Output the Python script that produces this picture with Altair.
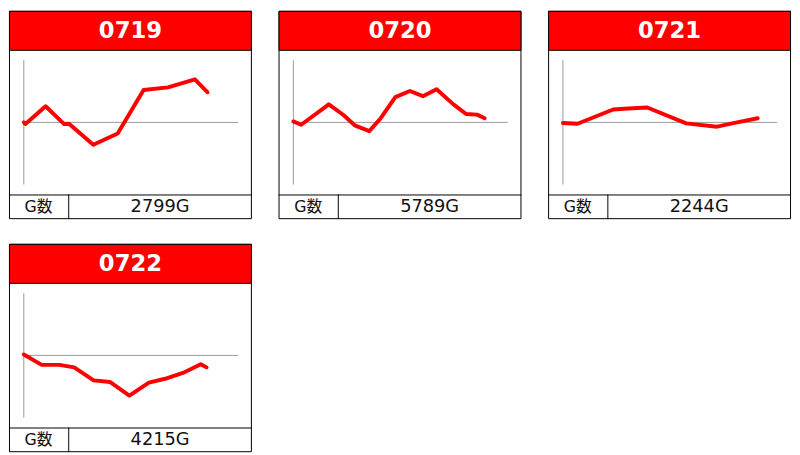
import altair as alt
import pandas as pd

# ---- data ----
machines = ["0719", "0720", "0721", "0722"]
games = ["2799G", "5789G", "2244G", "4215G"]

x_0719 = [0, 1.7, 22.4, 41.4, 46.4, 71.4, 96.4, 123, 148, 175.7, 188.7]
y_0719 = [0, -85, 830, -85, -70, -1150, -570, 1665, 1800, 2215, 1550]

x_0720 = [0, 8, 36.4, 51.4, 63, 78, 89.7, 104.7, 119.7, 133, 147, 164.7, 177.4, 188.7, 196.4]
y_0720 = [50, -120, 930, 380, -150, -450, 215, 1300, 1615, 1350, 1700, 915, 430, 400, 215]

x_0721 = [0, 15, 51.6, 66.6, 86.6, 126.6, 158.3, 175, 200]
y_0721 = [-35, -70, 665, 715, 765, -50, -220, -35, 215]

x_0722 = [0, 18.4, 36.7, 51.7, 71.7, 88.4, 108.4, 128.4, 145, 163.4, 181.7, 187.7]
y_0722 = [50, -485, -485, -615, -1285, -1365, -2065, -1400, -1200, -900, -450, -615]

series_x = [x_0719, x_0720, x_0721, x_0722]
series_y = [y_0719, y_0720, y_0721, y_0722]

X_MAX = 220
Y_LIM = 3200

# ---- layout ----
W, H = 246, 211
HEADER = 40
FOOT_Y = H - 25
DIV_X = 60
AX_L, AX_R = 15, W - 14
AX_T, AX_B = HEADER + 10, FOOT_Y - 10

FONT = "DejaVu Sans, 'Noto Sans CJK JP', sans-serif"
one = pd.DataFrame({"a": [0]})


def panel(name, xs, ys, g):
    xscale = alt.Scale(domain=[0, X_MAX], range=[AX_L, AX_R])
    yscale = alt.Scale(domain=[-Y_LIM, Y_LIM], range=[AX_B, AX_T])

    frame = alt.Chart(one).mark_rect(fill="white", stroke="black", strokeWidth=1).encode(
        x=alt.value(0.5), x2=alt.value(W - 0.5), y=alt.value(0.5), y2=alt.value(H - 0.5))
    header = alt.Chart(one).mark_rect(fill="#ff0000", stroke="black", strokeWidth=1).encode(
        x=alt.value(0.5), x2=alt.value(W - 0.5), y=alt.value(0.5), y2=alt.value(HEADER))
    title = alt.Chart(one).mark_text(
        text=name, font="DejaVu Sans", fontSize=23, fontWeight="bold", color="white",
        align="center", baseline="middle").encode(x=alt.value(W / 2), y=alt.value(HEADER / 2 + 1))
    foot_line = alt.Chart(one).mark_rule(color="black", strokeWidth=1).encode(
        x=alt.value(0), x2=alt.value(W), y=alt.value(FOOT_Y + 0.5))
    foot_div = alt.Chart(one).mark_rule(color="black", strokeWidth=1).encode(
        x=alt.value(DIV_X + 0.5), y=alt.value(FOOT_Y), y2=alt.value(H))
    lab1 = alt.Chart(one).mark_text(
        text="G数", font=FONT, fontSize=16, color="#111", align="center", baseline="middle").encode(
        x=alt.value(DIV_X / 2), y=alt.value((FOOT_Y + H) / 2 + 0.5))
    lab2 = alt.Chart(one).mark_text(
        text=g, font=FONT, fontSize=18, color="#111", align="center", baseline="middle").encode(
        x=alt.value((DIV_X + W) / 2), y=alt.value((FOOT_Y + H) / 2 + 0.5))

    vaxis = alt.Chart(pd.DataFrame({"x": [0], "y": [-Y_LIM], "y2": [Y_LIM]})).mark_rule(
        color="#999999", strokeWidth=1).encode(
        x=alt.X("x:Q", scale=xscale, axis=None),
        y=alt.Y("y:Q", scale=yscale, axis=None), y2="y2:Q")
    haxis = alt.Chart(pd.DataFrame({"x": [0], "x2": [X_MAX], "y": [0]})).mark_rule(
        color="#999999", strokeWidth=1).encode(
        x=alt.X("x:Q", scale=xscale, axis=None), x2="x2:Q",
        y=alt.Y("y:Q", scale=yscale, axis=None))
    line = alt.Chart(pd.DataFrame({"x": xs, "y": ys})).mark_line(
        color="#ff0000", strokeWidth=4, strokeJoin="round", strokeCap="round").encode(
        x=alt.X("x:Q", scale=xscale, axis=None),
        y=alt.Y("y:Q", scale=yscale, axis=None))

    return alt.layer(frame, header, title, foot_line, foot_div, lab1, lab2,
                     vaxis, haxis, line).properties(width=W, height=H)


panels = [panel(m, xs, ys, g) for m, xs, ys, g in zip(machines, series_x, series_y, games)]

chart = alt.vconcat(
    alt.hconcat(panels[0], panels[1], panels[2], spacing=25),
    alt.hconcat(panels[3], spacing=25),
    spacing=24,
    padding=0,
).configure_view(stroke=None).configure_concat(spacing=25)

chart.save("out.html", embed_options={"renderer": "svg", "actions": False})
